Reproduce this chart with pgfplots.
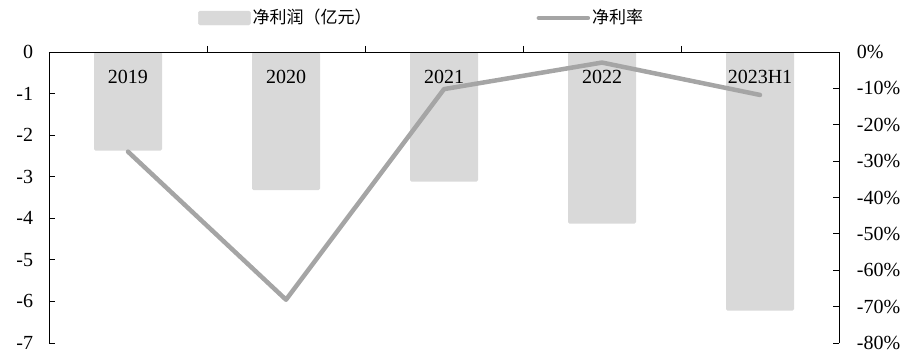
\documentclass[border=0pt]{standalone}
\usepackage{pgfplots}
\pgfplotsset{compat=1.18}
\usepackage{fontspec}
\setmainfont{Liberation Serif}
\newfontfamily\cjk{Noto Sans CJK SC}
\definecolor{barc}{HTML}{D9D9D9}
\definecolor{linec}{HTML}{A5A5A5}
\begin{document}
\begin{tikzpicture}
\fontsize{20}{24}\selectfont
\path (-49pt,-13pt) rectangle (863pt,343pt);
% bars + left axis
\begin{axis}[
  at={(0pt,0pt)}, anchor=south west, scale only axis,
  width=790pt, height=291pt,
  xmin=-0.5, xmax=4.5, ymin=-7, ymax=0,
  axis x line=none, axis y line*=left,
  ytick={0,-1,-2,-3,-4,-5,-6,-7},
  yticklabels={0,-1,-2,-3,-4,-5,-6,-7},
  tick align=inside, major tick length=6pt,
  yticklabel style={font=\fontsize{20}{24}\selectfont, xshift=-9pt},
  axis line style={line width=0.8pt, -}, tick style={line width=0.8pt, black},
  clip=false,
]
\addplot[ybar, bar width=68pt, bar shift=0pt, fill=barc, draw=none, rounded corners=1.5pt]
  coordinates {(0,-2.37) (1,-3.32) (2,-3.12) (3,-4.13) (4,-6.22)};
\end{axis}
% top x axis line with outside ticks
\begin{axis}[
  at={(0pt,0pt)}, anchor=south west, scale only axis,
  width=790pt, height=291pt,
  xmin=-0.5, xmax=4.5, ymin=-7, ymax=0,
  axis x line*=top, axis y line=none,
  xtick={0.5,1.5,2.5,3.5}, xticklabels={},
  tick align=outside, major tick length=6pt,
  axis line style={line width=0.8pt, -}, tick style={line width=0.8pt, black},
  clip=false,
]
\addplot[draw=none] coordinates {(0,0)};
\foreach \i/\lab in {0/2019,1/2020,2/2021,3/2022,4/2023H1}{
  \edef\temp{\noexpand\node[font=\noexpand\fontsize{20}{24}\noexpand\selectfont, anchor=center] at (axis cs:\i,0) [yshift=-25pt] {\lab};}
  \temp
}
\end{axis}
% line + right axis
\begin{axis}[
  at={(0pt,0pt)}, anchor=south west, scale only axis,
  width=790pt, height=291pt,
  xmin=-0.5, xmax=4.5, ymin=-80, ymax=0,
  axis x line=none, axis y line*=right,
  ytick={0,-10,-20,-30,-40,-50,-60,-70,-80},
  yticklabels={0\%,-10\%,-20\%,-30\%,-40\%,-50\%,-60\%,-70\%,-80\%},
  tick align=inside, major tick length=6pt,
  yticklabel style={font=\fontsize{20}{24}\selectfont, xshift=11pt},
  axis line style={line width=0.8pt, -}, tick style={line width=0.8pt, black},
  clip=false,
  legend columns=2,
  legend style={at={(0.1886,1.1168)}, anchor=west, draw=none, fill=none,
    inner sep=0pt, font=\cjk\fontsize{17}{20}\selectfont,
    /tikz/every even column/.append style={column sep=163pt}},
]
\addlegendimage{legend image code/.code={\fill[barc, rounded corners=1.5pt] (0pt,-7pt) rectangle (52pt,7pt);}}
\addlegendentry{净利润（亿元）}
\addplot[linec, line width=4.5pt, line cap=round, line join=round,
  legend image code/.code={\draw[linec, line width=4.5pt, line cap=round] (2pt,0pt) -- (51pt,0pt);}]
  coordinates {(0,-27.4) (1,-68.1) (2,-10.2) (3,-2.9) (4,-11.8)};
\addlegendentry{净利率}
\end{axis}
\end{tikzpicture}
\end{document}
